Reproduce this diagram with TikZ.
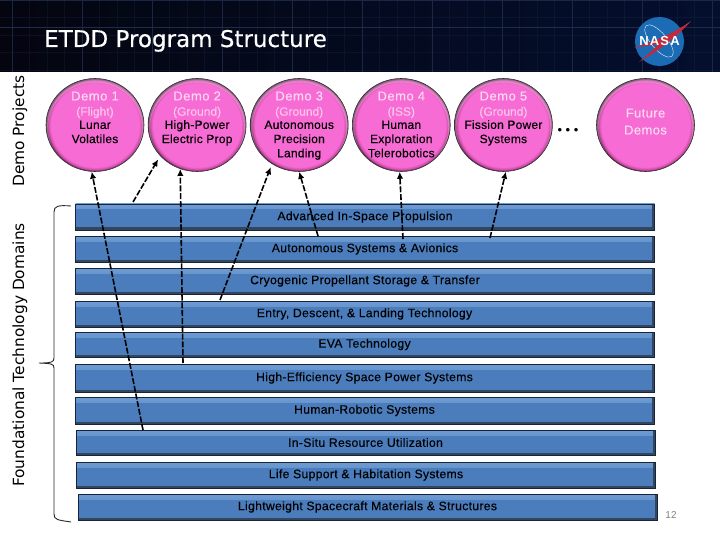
\documentclass[tikz,border=0pt]{standalone}
\usepackage{fontspec}
\setmainfont{Liberation Sans}
\newfontfamily\headfont{DejaVu Sans}
\usepackage{tikz}
\usetikzlibrary{arrows.meta,positioning,shapes.geometric}
\definecolor{HeadDark}{HTML}{04050F}
\definecolor{HeadBlue}{HTML}{040F2E}
\definecolor{GridBlue}{HTML}{1E2C4C}
\definecolor{BarBlue}{HTML}{4B7DBC}
\definecolor{BarLight}{HTML}{6E9BD2}
\definecolor{BarEdge}{HTML}{14263E}
\definecolor{BarShade}{HTML}{33465E}
\definecolor{DemoHead}{HTML}{FBD9F2}
\definecolor{DemoKind}{HTML}{FCC4EC}
\definecolor{LogoBlue}{HTML}{1B6CB4}
\definecolor{LogoRed}{HTML}{C22A3C}
\pgfdeclareradialshading{demoglow}{\pgfpoint{0bp}{0bp}}{%
  rgb(0bp)=(0.97,0.42,0.83);rgb(22.5bp)=(0.97,0.42,0.83);rgb(24bp)=(0.80,0.30,0.65);rgb(25bp)=(0.25,0.07,0.22);rgb(50bp)=(0.25,0.07,0.22)}
\newcommand{\demohead}[1]{{\color{DemoHead}\fontsize{13}{14.2}\selectfont\addfontfeature{LetterSpace=4}\rule{0pt}{12pt}#1}}
\newcommand{\demokind}[1]{\raisebox{-1pt}{\color{DemoKind}\addfontfeature{LetterSpace=0}#1}}

\begin{document}
\begin{tikzpicture}[x=1pt,y=-1pt,
  demo/.style={ellipse,shading=demoglow,draw=black!80,line width=.6pt,minimum width=98pt,minimum height=93pt,inner sep=-8pt,align=center,
    font=\fontsize{12}{14.2}\selectfont\addfontfeature{LetterSpace=2,FakeBold=0.25},
    path picture={\fill[white,opacity=.28,even odd rule] (path picture bounding box.center) ellipse [x radius=49pt,y radius=46.5pt]
      ([yshift=-2.5pt]path picture bounding box.center) ellipse [x radius=47pt,y radius=45pt];}},
  bar/.style={rectangle,minimum width=579pt,inner sep=0pt,fill=BarBlue,draw=BarEdge,line width=.9pt,align=center,
    font=\fontsize{12.2}{14}\selectfont\addfontfeature{LetterSpace=2.5,FakeBold=0.25},
    path picture={\shade[top color=BarLight,bottom color=BarBlue] (path picture bounding box.north west) rectangle ([yshift=-5pt]path picture bounding box.north east);
      \fill[BarShade] (path picture bounding box.south west) rectangle ([yshift=2.5pt]path picture bounding box.south east);
      \fill[BarShade] (path picture bounding box.south east) rectangle ([xshift=-2.5pt]path picture bounding box.north east);}},
  side/.style={rotate=90,font=\headfont\fontsize{15.4}{17}\selectfont},
  link/.style={dashed,dash pattern=on 6pt off 1.8pt,line width=1.6pt,-{Latex[length=7pt,width=6.5pt]}},
  bracket/.style={line width=.9pt,draw=black!85}]
\useasboundingbox (0,0) rectangle (720,540);
% header band
\shade[left color=HeadDark,right color=HeadBlue] (0,0) rectangle (720,72);
\draw[GridBlue,line width=.25pt,shift={(12,0)},xstep=17.5pt,ystep=17.5pt,opacity=.3] (-12,0) grid (708,72);
\draw[GridBlue,line width=.7pt,shift={(12,0)},xstep=70pt,ystep=100pt,opacity=.8] (-12,0) grid (708,72);
\draw[GridBlue,line width=.9pt] (0,27) -- (720,27);
\node[anchor=base west,text=white,inner sep=0pt,font=\headfont\fontsize{23}{26}\selectfont\addfontfeature{FakeBold=0.4}] (title) at (44,47) {ETDD Program Structure};
% logo
\node[circle,fill=LogoBlue,minimum size=49pt,inner sep=0pt] (logo) at (659.5,41.5) {};
\draw[white,line width=.35pt,rotate around={-50:(659,41)}] (659,41) ellipse [x radius=20pt,y radius=8pt];
\fill[LogoRed] (691,21) .. controls (670,36) and (650,42) .. (634,48) .. controls (645,46) and (652,45) .. (659,44) .. controls (652,51) and (646,56) .. (639,62) .. controls (660,50) and (678,36) .. (691,21) -- cycle;
\node[text=white,inner sep=0pt,font=\fontsize{13}{14}\selectfont\bfseries\addfontfeature{LetterSpace=9}] (logotext) at (659.5,41.5) {NASA};
% side labels
\node[side] (projects) at (20,131) {Demo Projects};
\node[side] (domains) at (20,355) {Foundational Technology Domains};
% demo row
\node[demo] (demoA) at (95,125) {\demohead{Demo 1}\\\demokind{(Flight)}\\Lunar\\Volatiles\\\strut};
\node[demo,right=3.5pt of demoA] (demoB) {\demohead{Demo 2}\\\demokind{(Ground)}\\High-Power\\Electric Prop\\\strut};
\node[demo,right=3.5pt of demoB] (demoC) {\demohead{Demo 3}\\\demokind{(Ground)}\\Autonomous\\Precision\\Landing\strut};
\node[demo,right=3.5pt of demoC] (demoD) {\demohead{Demo 4}\\\demokind{(ISS)}\\Human\\Exploration\\Telerobotics\strut};
\node[demo,right=3.5pt of demoD] (demoE) {\demohead{Demo 5}\\\demokind{(Ground)}\\Fission Power\\Systems\\\strut};
\node[demo,font=\fontsize{13}{17}\selectfont\addfontfeature{LetterSpace=3,FakeBold=0.25},text=DemoHead] (future) at (645.5,125) {Future\\Demos\\[-10pt]~};
\node[font=\fontsize{13}{14}\selectfont] (dots) at (568,131) {\textbullet\kern3.5pt\textbullet\kern3.5pt\textbullet};
% domain bars
\node[bar,minimum height=26pt] (barA) at (365,217) {Advanced In-Space Propulsion};
\node[bar,minimum height=26pt] (barB) at (365,249) {Autonomous Systems \& Avionics};
\node[bar,minimum height=26pt] (barC) at (365,281) {Cryogenic Propellant Storage \& Transfer};
\node[bar,minimum height=26pt] (barD) at (364.5,314) {Entry, Descent, \& Landing Technology};
\node[bar,minimum height=25pt] (barE) at (364.5,344.5) {EVA Technology};
\node[bar,minimum height=28pt] (barF) at (364.5,378) {High-Efficiency Space Power Systems};
\node[bar,minimum height=27pt] (barG) at (364.5,410.5) {Human-Robotic Systems};
\node[bar,minimum height=25pt] (barH) at (365.5,442.5) {In-Situ Resource Utilization};
\node[bar,minimum height=26pt] (barI) at (366,475) {Life Support \& Habitation Systems};
\node[bar,minimum height=26pt] (barJ) at (367.5,507) {Lightweight Spacecraft Materials \& Structures};
% brace
\draw[bracket] (71,206) .. controls (58,205) and (54,206) .. (54,212) -- (54,358) .. controls (54,362) and (52,363) .. (39,363) .. controls (52,363.5) and (54,364) .. (54,368) -- (54,514) .. controls (54,520) and (58,520) .. (71,522);
% tails of the links
\coordinate (tailA) at (143,430);
\coordinate (tailB) at (133,202);
\coordinate (tailC) at (183,363);
\coordinate (tailD) at (220,300);
\coordinate (tailE) at (318,236);
\coordinate (tailF) at (403,239);
\coordinate (tailG) at (490,238);
\draw[link] (tailA) -- (demoA.266);
\draw[link,shorten >=4pt] (tailB) -- (demoB.220);
\draw[link] (tailC) -- (demoB.249);
\draw[link,shorten >=3.5pt] (tailD) -- (demoC.235);
\draw[link] (tailE) -- (demoC.south);
\draw[link] (tailF) -- (demoD.268);
\draw[link] (tailG) -- (demoE.273);
\node[text=black!50,font=\fontsize{10}{12}\selectfont] (pagenum) at (671,515) {12};
\end{tikzpicture}
\end{document}
